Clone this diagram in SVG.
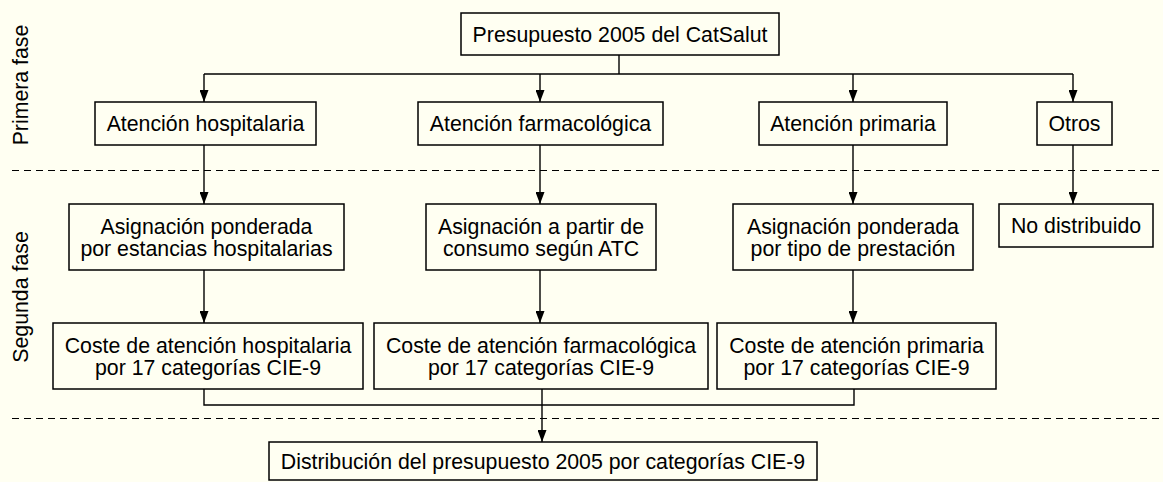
<svg xmlns="http://www.w3.org/2000/svg" width="1163" height="482" viewBox="0 0 1163 482">
<style>
.box{fill:none;stroke:#000;stroke-width:1.5}
.t{font-family:"Liberation Sans",Arial,sans-serif;font-size:21.3px;fill:#000;text-anchor:middle}
.ln{fill:none;stroke:#000;stroke-width:1.4}
.dash{fill:none;stroke:#000;stroke-width:1.1;stroke-dasharray:7 5}
</style>
<defs>
<marker id="arr" viewBox="0 0 12 9" refX="12" refY="4.5" markerWidth="12" markerHeight="9" markerUnits="userSpaceOnUse" orient="auto">
<path d="M0,0 L12,4.5 L0,9 Z" fill="#000"/>
</marker>
</defs>
<rect width="1163" height="482" fill="#FFFFF2"/>
<g id="phases">
<line class="dash" x1="12" y1="170.5" x2="1160" y2="170.5"/>
<line class="dash" x1="12" y1="418.5" x2="1160" y2="418.5"/>
<text class="t" transform="translate(28,85) rotate(-90)">Primera fase</text>
<text class="t" transform="translate(28,297) rotate(-90)">Segunda fase</text>
</g>
<g id="connectors">
<polyline class="ln" points="619,55 619,74"/>
<polyline class="ln" points="204,74 1073,74"/>
<line class="ln" x1="204" y1="74" x2="204" y2="102" marker-end="url(#arr)"/>
<line class="ln" x1="540" y1="74" x2="540" y2="102" marker-end="url(#arr)"/>
<line class="ln" x1="853" y1="74" x2="853" y2="102" marker-end="url(#arr)"/>
<line class="ln" x1="1073" y1="74" x2="1073" y2="102" marker-end="url(#arr)"/>
<line class="ln" x1="204" y1="145" x2="204" y2="204" marker-end="url(#arr)"/>
<line class="ln" x1="540" y1="145" x2="540" y2="204" marker-end="url(#arr)"/>
<line class="ln" x1="853" y1="145" x2="853" y2="204" marker-end="url(#arr)"/>
<line class="ln" x1="1073" y1="145" x2="1073" y2="204" marker-end="url(#arr)"/>
<line class="ln" x1="204" y1="270" x2="204" y2="323" marker-end="url(#arr)"/>
<line class="ln" x1="540" y1="270" x2="540" y2="323" marker-end="url(#arr)"/>
<line class="ln" x1="853" y1="270" x2="853" y2="323" marker-end="url(#arr)"/>
<polyline class="ln" points="204,389 204,405 854,405 854,389"/>
<line class="ln" x1="542" y1="389" x2="542" y2="442" marker-end="url(#arr)"/>
</g>
<g id="n-presupuesto"><rect class="box" x="461" y="13" width="318" height="42"/><text class="t" x="620" y="41.5">Presupuesto 2005 del CatSalut</text></g>
<g id="n-hosp"><rect class="box" x="95" y="102" width="221" height="43"/><text class="t" x="205.5" y="131">Atención hospitalaria</text></g>
<g id="n-farm"><rect class="box" x="418" y="102" width="245" height="43"/><text class="t" x="540.5" y="131">Atención farmacológica</text></g>
<g id="n-prim"><rect class="box" x="759" y="102" width="188" height="43"/><text class="t" x="853" y="131">Atención primaria</text></g>
<g id="n-otros"><rect class="box" x="1037" y="102" width="75" height="43"/><text class="t" x="1074.5" y="131">Otros</text></g>
<g id="n-asig-hosp"><rect class="box" x="69" y="204" width="275" height="66"/><text class="t" x="206.5" y="233.5">Asignación ponderada</text><text class="t" x="206.5" y="255.5">por estancias hospitalarias</text></g>
<g id="n-asig-farm"><rect class="box" x="426" y="204" width="230" height="66"/><text class="t" x="541" y="233.5">Asignación a partir de</text><text class="t" x="541" y="255.5">consumo según ATC</text></g>
<g id="n-asig-prim"><rect class="box" x="733" y="204" width="240" height="66"/><text class="t" x="853" y="233.5">Asignación ponderada</text><text class="t" x="853" y="255.5">por tipo de prestación</text></g>
<g id="n-nodist"><rect class="box" x="999" y="204" width="154" height="43"/><text class="t" x="1076" y="233">No distribuido</text></g>
<g id="n-coste-hosp"><rect class="box" x="53" y="323" width="310" height="66"/><text class="t" x="208" y="352.5">Coste de atención hospitalaria</text><text class="t" x="208" y="374.5">por 17 categorías CIE-9</text></g>
<g id="n-coste-farm"><rect class="box" x="374" y="323" width="334" height="66"/><text class="t" x="541" y="352.5">Coste de atención farmacológica</text><text class="t" x="541" y="374.5">por 17 categorías CIE-9</text></g>
<g id="n-coste-prim"><rect class="box" x="717" y="323" width="279" height="66"/><text class="t" x="856.5" y="352.5">Coste de atención primaria</text><text class="t" x="856.5" y="374.5">por 17 categorías CIE-9</text></g>
<g id="n-dist"><rect class="box" x="269" y="442" width="548" height="38"/><text class="t" x="543" y="469">Distribución del presupuesto 2005 por categorías CIE-9</text></g>
</svg>
